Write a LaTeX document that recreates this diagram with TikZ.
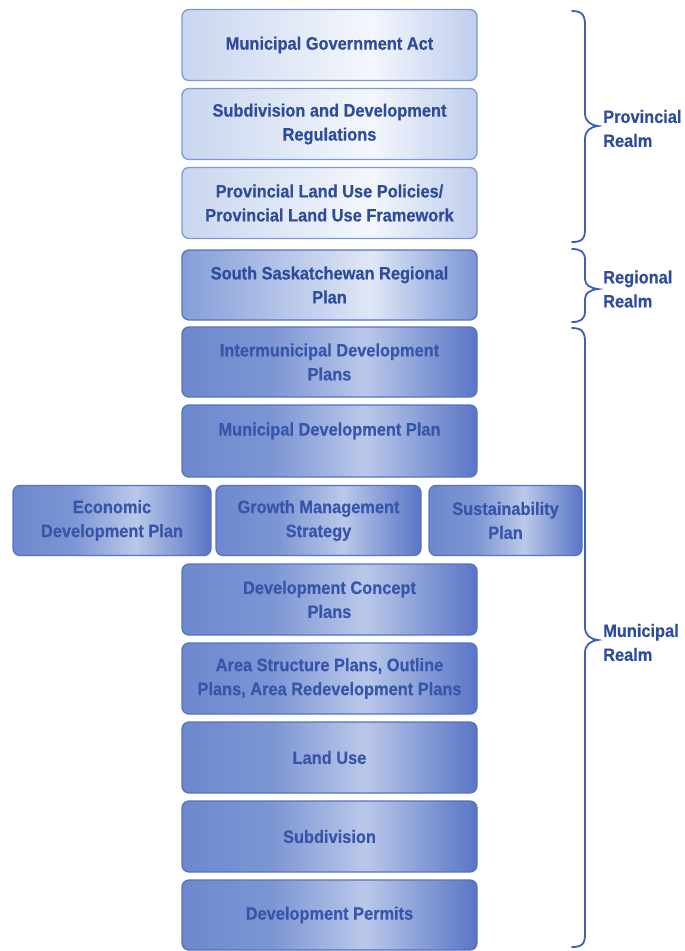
\documentclass[tikz,border=0pt]{standalone}
\usepackage{fontspec}
\newfontfamily\boxfont[FakeStretch=0.91, BoldFeatures={FakeBold=0.5}]{Liberation Sans}
\definecolor{txtdark}{HTML}{2E4C9C}
\definecolor{txtmid}{HTML}{3756AB}
\definecolor{bdlight}{HTML}{7D98D3}
\definecolor{bddark}{HTML}{5473C2}
\definecolor{lA}{HTML}{C9D6EF}
\definecolor{lB}{HTML}{F4F7FC}
\definecolor{lC}{HTML}{BFCDED}
\definecolor{mA}{HTML}{859DD8}
\definecolor{mB}{HTML}{E0E7F6}
\definecolor{mC}{HTML}{7A95D5}
\definecolor{dA}{HTML}{6D88CE}
\definecolor{dA2}{HTML}{7C95D3}
\definecolor{dB}{HTML}{BAC8E9}
\definecolor{dC}{HTML}{5975C6}
\definecolor{brc}{HTML}{3D5FB5}
\pgfdeclarehorizontalshading{lightshade}{100bp}{color(0bp)=(lA); color(25bp)=(lA); color(57bp)=(lB); color(75bp)=(lC); color(100bp)=(lC)}
\pgfdeclarehorizontalshading{midshade}{100bp}{color(0bp)=(mA); color(25bp)=(mA); color(57bp)=(mB); color(75bp)=(mC); color(100bp)=(mC)}
\pgfdeclarehorizontalshading{darkshade}{100bp}{color(0bp)=(dA); color(25bp)=(dA); color(40bp)=(dA2); color(56bp)=(dB); color(75bp)=(dC); color(100bp)=(dC)}
\tikzset{
  boxbase/.style={rounded corners=7pt, line width=1.3pt, align=center, inner sep=0pt,
    font=\boxfont\bfseries\fontsize{18}{24}\selectfont},
  lightbox/.style={boxbase, draw=bdlight, shading=lightshade, text=txtdark},
  midbox/.style={boxbase, draw=bddark, shading=midshade, text=txtdark},
  darkbox/.style={boxbase, draw=bddark, shading=darkshade, text=txtmid},
  colbox/.style={minimum width=295pt, minimum height=71pt},
  bracepath/.style={draw=brc, line width=1.8pt, line cap=round},
  realm/.style={align=left, anchor=west, inner sep=0pt, text=txtdark,
    font=\boxfont\bfseries\fontsize{18}{24}\selectfont}
}
\begin{document}
\begin{tikzpicture}[x=1pt,y=-1pt]
\useasboundingbox (0,0) rectangle (685,951);
\fill[white] (0,0) rectangle (685,951);
% provincial realm
\node[lightbox, colbox] (mga) at (329.5,45) {Municipal Government Act};
\node[lightbox, colbox] (sdr) at (329.5,124) {Subdivision and Development\\Regulations};
\node[lightbox, colbox] (plup) at (329.5,203) {Provincial Land Use Policies/\\Provincial Land Use Framework};
% regional
\node[midbox, colbox, minimum height=70pt] (ssrp) at (329.5,285) {South Saskatchewan Regional\\Plan};
% municipal
\node[darkbox, colbox, minimum height=70pt] (idp) at (329.5,362) {Intermunicipal Development\\Plans};
\node[darkbox, colbox, minimum height=72pt] (mdp) at (329.5,441) {Municipal Development Plan\\\mbox{}};
\node[darkbox, minimum width=198pt, minimum height=70pt] (edp) at (112,520.5) {Economic\\Development Plan};
\node[darkbox, minimum width=205pt, minimum height=70pt] (gms) at (318.5,520.5) {Growth Management\\Strategy};
\node[darkbox, minimum width=153pt, minimum height=70pt] (sp) at (505.5,520.5) {Sustainability\\Plan};
\node[darkbox, colbox] (dcp) at (329.5,599.5) {Development Concept\\Plans};
\node[darkbox, colbox] (asp) at (329.5,678.5) {Area Structure Plans, Outline\\Plans, Area Redevelopment Plans};
\node[darkbox, colbox] (lu) at (329.5,757.5) {Land Use};
\node[darkbox, colbox] (sub) at (329.5,836.5) {Subdivision};
\node[darkbox, colbox, minimum height=70pt] (dp) at (329.5,915) {Development Permits};
% braces
\draw[bracepath] (572,11) .. controls (582,11) and (585,15) .. (585,25) -- (585,113)
  .. controls (585,121) and (590,125) .. (598,126)
  .. controls (590,127) and (585,131) .. (585,139) -- (585,229)
  .. controls (585,239) and (582,242) .. (572,242);
\draw[bracepath] (572,249) .. controls (581,249) and (585,252) .. (585,260) -- (585,279)
  .. controls (585,285) and (590,288) .. (598,289)
  .. controls (590,290) and (585,293) .. (585,299) -- (585,311)
  .. controls (585,319) and (581,322) .. (572,322);
\draw[bracepath] (572,328) .. controls (582,328) and (585,332) .. (585,342) -- (585,627)
  .. controls (585,635) and (590,639) .. (598,640)
  .. controls (590,641) and (585,645) .. (585,653) -- (585,934)
  .. controls (585,944) and (582,947) .. (572,947);
\node[realm] (prov) at (603,128.5) {Provincial\\Realm};
\node[realm] (reg) at (603,289) {Regional\\Realm};
\node[realm] (mun) at (603,642.5) {Municipal\\Realm};
\end{tikzpicture}
\end{document}
